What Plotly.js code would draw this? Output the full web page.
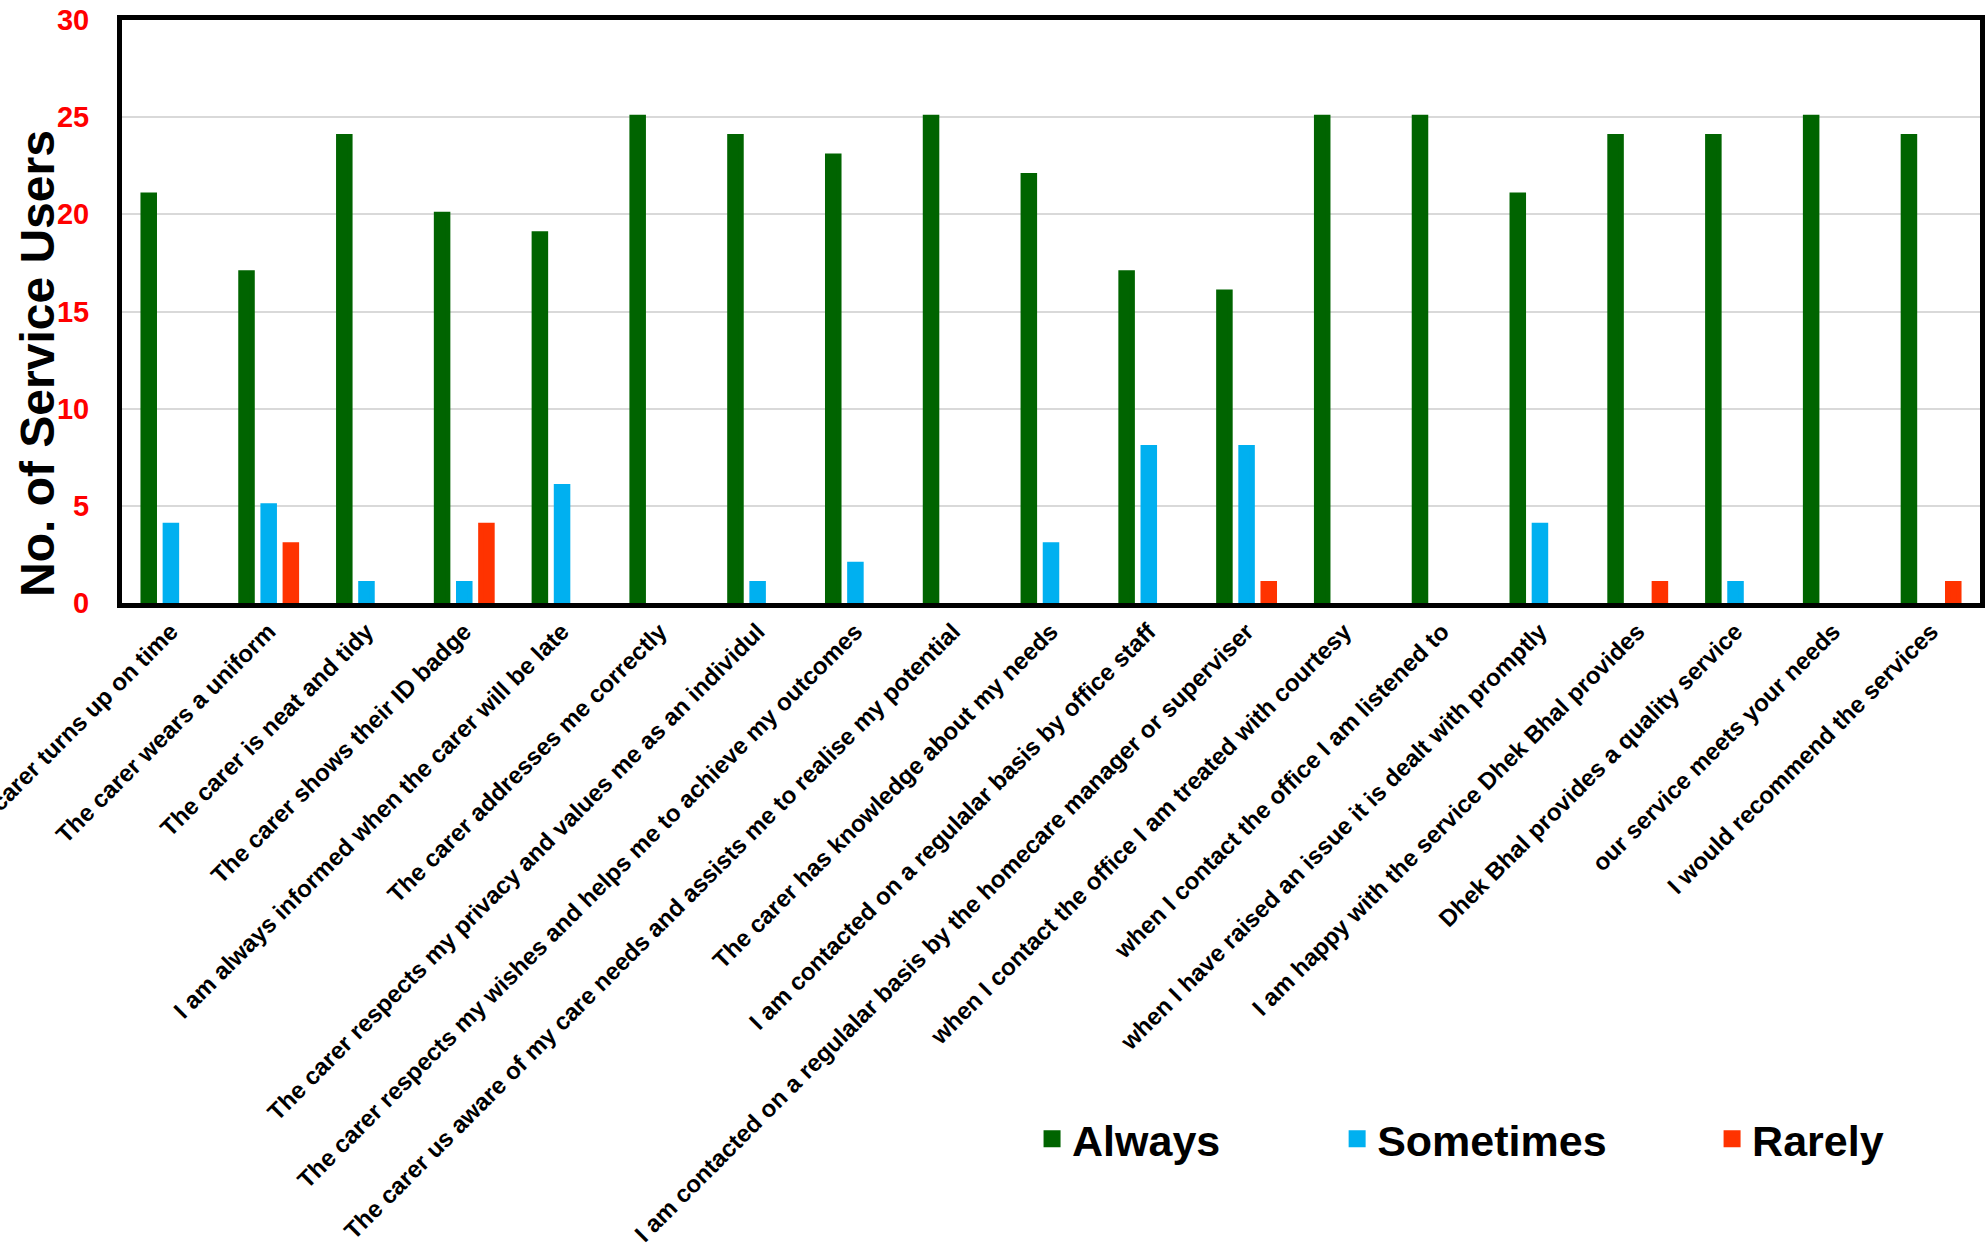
<!DOCTYPE html>
<html>
<head>
<meta charset="utf-8">
<script src="https://cdn.plot.ly/plotly-3.0.1.min.js"></script>
<style>
  html, body { margin: 0; padding: 0; background: #ffffff; }
  #chart { width: 1987px; height: 1246px; }
</style>
</head>
<body>
<div id="chart"></div>
<script>
// Survey statements (one group of bars per statement)
const statements = [
  "The carer turns up on time",
  "The carer wears a uniform",
  "The carer is neat and tidy",
  "The carer shows their ID badge",
  "I am always informed when the carer will be late",
  "The carer addresses me correctly",
  "The carer respects my privacy and values me as an individul",
  "The carer respects my wishes and helps me to achieve my outcomes",
  "The carer us aware of my care needs and assists me to realise my potential",
  "The carer has knowledge about my needs",
  "I am contacted on a regulalar basis by office staff",
  "I am contacted on a regulalar basis by the homecare manager or superviser",
  "when I contact the office I am treated with courtesy",
  "when I contact the office I am listened to",
  "when I have raised an issue it is dealt with promptly",
  "I am happy with the service Dhek Bhal provides",
  "Dhek Bhal provides a quality service",
  "our service meets your needs",
  "I would recommend the services"
];

// Number of service users giving each answer
const always    = [21, 17, 24, 20, 19, 25, 24, 23, 25, 22, 17, 16, 25, 25, 21, 24, 24, 25, 24];
const sometimes = [ 4,  5,  1,  1,  6,  0,  1,  2,  0,  3,  8,  8,  0,  0,  4,  0,  1,  0,  0];
const rarely    = [ 0,  3,  0,  4,  0,  0,  0,  0,  0,  0,  0,  1,  0,  0,  0,  1,  0,  0,  1];

const yTickValues = [0, 5, 10, 15, 20, 25, 30];
const yTickLabels = ["0", "5", "10", "15", "20", "25", "30"];

const FONT = "Liberation Sans, Arial, Helvetica, sans-serif";
const GREEN = "#006400";
const BLUE = "#00B0F0";
const RED = "#FF3300";

function barTrace(name, values, color, legendId) {
  return {
    type: "bar",
    name: name,
    x: statements,
    // a count of zero leaves an empty slot in its group
    y: values.map(v => (v > 0 ? v : null)),
    marker: { color: color, line: { color: color, width: 5 } },
    legend: legendId,
    hoverinfo: "x+y+name"
  };
}

const data = [
  barTrace("Always", always, GREEN, "legend"),
  barTrace("Sometimes", sometimes, BLUE, "legend2"),
  barTrace("Rarely", rarely, RED, "legend3")
];

const legendFont = { family: FONT, size: 43, color: "#000000", weight: "bold" };
function legendBox(x) {
  return {
    x: x, y: -0.919,
    xref: "paper", yref: "paper",
    xanchor: "left", yanchor: "middle",
    orientation: "h",
    bgcolor: "rgba(0,0,0,0)",
    borderwidth: 0,
    font: legendFont
  };
}

const layout = {
  width: 1987,
  height: 1246,
  margin: { l: 122, r: 7, t: 20, b: 643, pad: 0 },
  paper_bgcolor: "#ffffff",
  plot_bgcolor: "#ffffff",
  font: { family: FONT, color: "#000000" },
  barmode: "group",
  bargap: 0.32,
  bargroupgap: 0.48,
  showlegend: true,
  legend: legendBox(0.4898),
  legend2: legendBox(0.654),
  legend3: legendBox(0.8558),
  xaxis: {
    type: "category",
    tickangle: -45,
    tickfont: { family: FONT, size: 24, color: "#000000", weight: "bold" },
    showline: true,
    linecolor: "#000000",
    linewidth: 5,
    mirror: true,
    ticks: "",
    showgrid: false,
    automargin: false,
    fixedrange: true
  },
  yaxis: {
    range: [0, 30],
    tickmode: "array",
    tickvals: yTickValues,
    ticktext: yTickLabels,
    tickfont: { family: FONT, size: 29, color: "#FF0000", weight: "bold" },
    ticks: "outside",
    ticklen: 22,
    tickcolor: "rgba(0,0,0,0)",
    showgrid: true,
    gridcolor: "#d9d9d9",
    gridwidth: 2,
    zeroline: false,
    showline: true,
    linecolor: "#000000",
    linewidth: 5,
    mirror: true,
    automargin: false,
    fixedrange: true
  },
  annotations: [{
    text: "No. of Service Users",
    textangle: -90,
    xref: "paper", yref: "paper",
    x: -0.0452, y: 0.41,
    xanchor: "center", yanchor: "middle",
    showarrow: false,
    font: { family: FONT, size: 48, color: "#000000", weight: "bold" }
  }]
};

Plotly.newPlot("chart", data, layout, { displayModeBar: false, staticPlot: true });
</script>
</body>
</html>
